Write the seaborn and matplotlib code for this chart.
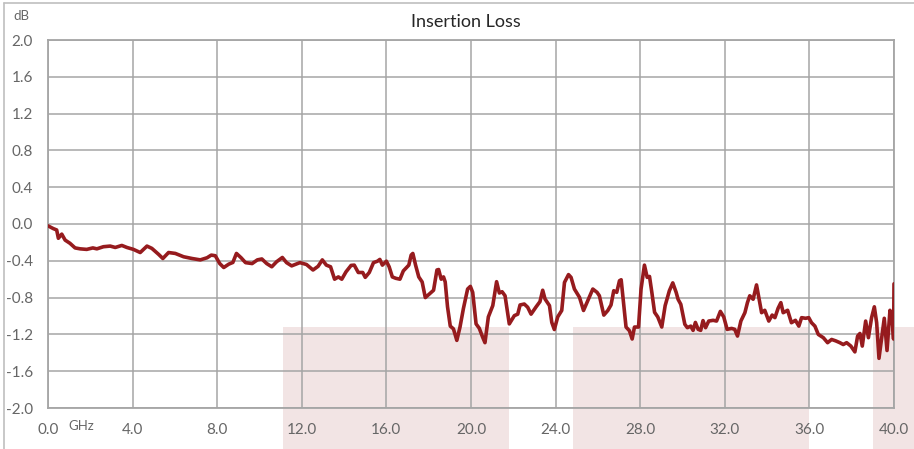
import matplotlib
matplotlib.use("Agg")
import matplotlib.pyplot as plt
from matplotlib.lines import Line2D
import seaborn as sns
import pandas as pd

freq_ghz = [0.00, 0.25, 0.41, 0.49, 0.65, 0.81, 1.04, 1.28, 1.52, 1.83, 2.12, 2.31, 2.62, 2.94,
            3.18, 3.49, 3.73, 4.04, 4.36, 4.68, 4.91, 5.23, 5.43, 5.70, 6.02, 6.41, 6.81, 7.20,
            7.52, 7.72, 7.91, 8.12, 8.31, 8.55, 8.74, 8.91, 9.13, 9.34, 9.65, 9.90, 10.11, 10.34,
            10.58, 10.81, 11.08, 11.28, 11.52, 11.91, 12.22, 12.53, 12.77, 12.97, 13.16, 13.36,
            13.55, 13.73, 13.89, 14.09, 14.33, 14.48, 14.67, 14.88, 15.00, 15.19, 15.39, 15.58,
            15.69, 15.81, 16.00, 16.13, 16.28, 16.44, 16.64, 16.80, 17.06, 17.17, 17.25, 17.38,
            17.53, 17.69, 17.84, 18.00, 18.23, 18.39, 18.47, 18.59, 18.70, 18.78, 18.89, 19.02,
            19.17, 19.33, 19.48, 19.64, 19.84, 19.97, 20.08, 20.24, 20.39, 20.55, 20.66, 20.82,
            21.03, 21.21, 21.34, 21.47, 21.61, 21.81, 22.05, 22.21, 22.32, 22.52, 22.68, 22.84,
            23.08, 23.26, 23.39, 23.50, 23.71, 23.82, 23.94, 24.10, 24.29, 24.42, 24.61, 24.73,
            24.89, 25.13, 25.32, 25.52, 25.76, 25.96, 26.07, 26.28, 26.47, 26.62, 26.75, 26.89,
            27.02, 27.10, 27.22, 27.33, 27.49, 27.62, 27.73, 27.92, 28.04, 28.20, 28.33, 28.44,
            28.55, 28.68, 28.83, 29.02, 29.18, 29.38, 29.54, 29.70, 29.79, 29.92, 30.11, 30.23,
            30.39, 30.50, 30.61, 30.74, 30.86, 30.97, 31.09, 31.24, 31.45, 31.61, 31.79, 31.95,
            32.11, 32.32, 32.47, 32.60, 32.76, 32.95, 33.07, 33.18, 33.34, 33.50, 33.61, 33.74,
            33.89, 34.08, 34.24, 34.37, 34.52, 34.65, 34.76, 34.97, 35.15, 35.34, 35.50, 35.63,
            35.82, 35.97, 36.10, 36.26, 36.42, 36.66, 36.86, 37.05, 37.24, 37.44, 37.60, 37.76,
            37.96, 38.15, 38.28, 38.39, 38.50, 38.66, 38.79, 38.94, 39.07, 39.18, 39.29, 39.42,
            39.54, 39.67, 39.81, 39.92, 39.98, 40.00]

loss_db = [-0.02, -0.05, -0.065, -0.155, -0.11, -0.175, -0.21, -0.26, -0.27, -0.276, -0.26, -0.27,
           -0.247, -0.24, -0.255, -0.233, -0.255, -0.276, -0.31, -0.24, -0.265, -0.33, -0.375,
           -0.31, -0.32, -0.356, -0.375, -0.39, -0.367, -0.338, -0.345, -0.43, -0.473, -0.436,
           -0.418, -0.32, -0.367, -0.42, -0.43, -0.39, -0.38, -0.43, -0.465, -0.41, -0.364,
           -0.42, -0.455, -0.42, -0.44, -0.50, -0.46, -0.39, -0.447, -0.465, -0.60, -0.575,
           -0.60, -0.52, -0.45, -0.447, -0.527, -0.527, -0.58, -0.527, -0.42, -0.404, -0.385,
           -0.447, -0.404, -0.465, -0.575, -0.59, -0.60, -0.51, -0.447, -0.338, -0.32, -0.447,
           -0.575, -0.63, -0.80, -0.767, -0.72, -0.50, -0.495, -0.60, -0.575, -0.63, -0.90,
           -1.11, -1.14, -1.265, -1.12, -0.92, -0.707, -0.678, -0.743, -1.086, -1.133, -1.23,
           -1.29, -1.01, -0.887, -0.627, -0.75, -0.736, -0.78, -1.086, -0.996, -0.98, -0.88,
           -0.87, -0.905, -0.98, -0.90, -0.844, -0.72, -0.815, -0.887, -1.07, -1.147, -1.01,
           -0.94, -0.635, -0.55, -0.58, -0.707, -0.797, -0.94, -0.833, -0.707, -0.743, -0.78,
           -0.99, -0.94, -0.88, -0.725, -0.743, -0.617, -0.606, -0.87, -1.12, -1.16, -1.25,
           -1.12, -1.12, -0.707, -0.447, -0.58, -0.57, -0.743, -0.96, -1.01, -1.12, -0.887,
           -0.725, -0.64, -0.743, -0.818, -0.873, -1.09, -1.127, -1.11, -1.156, -1.07, -1.145,
           -1.156, -1.05, -1.127, -1.055, -1.047, -1.055, -0.95, -1.01, -1.145, -1.135, -1.145,
           -1.218, -1.055, -0.964, -0.855, -0.78, -0.818, -0.662, -0.80, -0.964, -0.938, -1.055,
           -0.99, -1.018, -0.916, -0.855, -0.964, -0.938, -1.073, -1.047, -1.11, -1.018, -1.025,
           -1.018, -1.073, -1.11, -1.20, -1.236, -1.29, -1.255, -1.27, -1.29, -1.31, -1.29,
           -1.327, -1.39, -1.218, -1.19, -1.327, -1.055, -1.236, -1.018, -0.90, -1.073, -1.46,
           -1.236, -1.025, -1.375, -0.938, -1.055, -1.25, -0.65]

x_ticks = [0, 4, 8, 12, 16, 20, 24, 28, 32, 36, 40]
x_tick_labels = ["0.0", "4.0", "8.0", "12.0", "16.0", "20.0", "24.0", "28.0", "32.0", "36.0", "40.0"]
y_ticks = [-2.0, -1.6, -1.2, -0.8, -0.4, 0.0, 0.4, 0.8, 1.2, 1.6, 2.0]
y_tick_labels = ["-2.0", "-1.6", "-1.2", "-0.8", "-0.4", "0.0", "0.4", "0.8", "1.2", "1.6", "2.0"]
shade_spans = [(11.1, 21.8), (24.8, 36.0), (39.0, 42.0)]
shade_top = -1.12

sns.set_theme(style="white")
plt.rcParams["font.family"] = ["Lato", "DejaVu Sans"]

fig = plt.figure(figsize=(9.14, 4.49), dpi=100)
ax = fig.add_axes([48 / 914, 1 - 408 / 449, (894 - 48) / 914, (408 - 40) / 449])

df = pd.DataFrame({"freq": freq_ghz, "loss": loss_db})
sns.lineplot(data=df, x="freq", y="loss", ax=ax, color="#961b1e", linewidth=2.6,
             sort=False, zorder=3)

grid_c = "#a5a5a5"
ylim = (-2.0, 2.0)
below = -41 / 368  # extend shading to figure bottom (axes fraction)
top_frac = (shade_top - ylim[0]) / (ylim[1] - ylim[0])
for x0, x1 in shade_spans:
    ax.axvspan(x0, x1, ymin=below, ymax=top_frac, color="#f2e4e4", lw=0,
               clip_on=False, zorder=0.2)

ax.set_xlim(0, 40)
ax.set_ylim(*ylim)
ax.set_xticks(x_ticks)
ax.set_xticklabels(x_tick_labels)
ax.set_yticks(y_ticks)
ax.set_yticklabels(y_tick_labels)
ax.set_axisbelow(True)
ax.grid(True, color=grid_c, linewidth=1.1)
for s in ax.spines.values():
    s.set_color(grid_c)
    s.set_linewidth(1.3)
ax.tick_params(axis="both", length=0, labelsize=11, colors="#666666")
ax.tick_params(axis="x", pad=11)
ax.tick_params(axis="y", pad=11)
ax.set_xlabel("")
ax.set_ylabel("")
ax.patch.set_alpha(0)

fig.text(466 / 914, 1 - 22 / 449, "Insertion Loss", ha="center", va="center",
         fontsize=13, color="#262626")
fig.text(21 / 914, 1 - 16 / 449, "dB", ha="center", va="center", fontsize=9.5, color="#666666")
fig.text(81 / 914, 1 - 426 / 449, "GHz", ha="center", va="center", fontsize=9.5, color="#666666")

border_c = "#bfbfbf"
fig.add_artist(Line2D([4 / 914, 1.0], [1 - 3 / 449, 1 - 3 / 449], transform=fig.transFigure,
                      color=border_c, lw=1.2))
fig.add_artist(Line2D([4 / 914, 4 / 914], [0.0, 1 - 3 / 449], transform=fig.transFigure,
                      color=border_c, lw=1.2))

fig.savefig("out.png", dpi=100)
